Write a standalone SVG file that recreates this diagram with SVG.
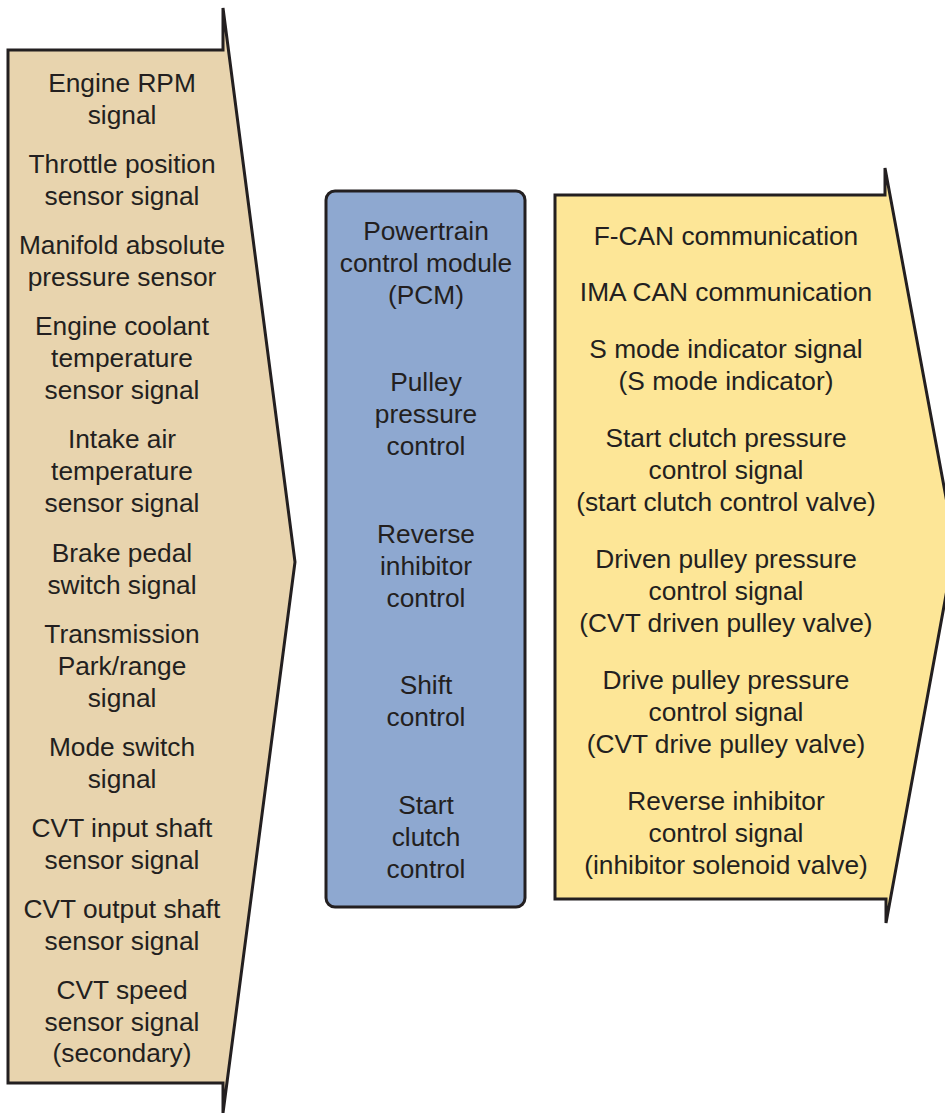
<svg xmlns="http://www.w3.org/2000/svg" width="945" height="1113" viewBox="0 0 945 1113">
<style>
.shape{stroke:#231f20;stroke-width:3;stroke-linejoin:miter}
text{font-family:"Liberation Sans",Arial,sans-serif;font-size:26.3px;fill:#231f20;text-anchor:middle}
</style>
<rect width="945" height="1113" fill="#ffffff"/>
<g id="inputs">
<polygon class="shape" fill="#e8d4ae" points="8,50 223,50 223,8 295,562 223,1113 223,1083 8,1083"/>
<text x="122" y="92">Engine RPM</text>
<text x="122" y="124">signal</text>
<text x="122" y="173">Throttle position</text>
<text x="122" y="205">sensor signal</text>
<text x="122" y="254">Manifold absolute</text>
<text x="122" y="286">pressure sensor</text>
<text x="122" y="335">Engine coolant</text>
<text x="122" y="367">temperature</text>
<text x="122" y="399">sensor signal</text>
<text x="122" y="448">Intake air</text>
<text x="122" y="480">temperature</text>
<text x="122" y="512">sensor signal</text>
<text x="122" y="562">Brake pedal</text>
<text x="122" y="594">switch signal</text>
<text x="122" y="643">Transmission</text>
<text x="122" y="675">Park/range</text>
<text x="122" y="707">signal</text>
<text x="122" y="756">Mode switch</text>
<text x="122" y="788">signal</text>
<text x="122" y="837">CVT input shaft</text>
<text x="122" y="869">sensor signal</text>
<text x="122" y="918">CVT output shaft</text>
<text x="122" y="950">sensor signal</text>
<text x="122" y="999">CVT speed</text>
<text x="122" y="1031">sensor signal</text>
<text x="122" y="1062">(secondary)</text>
</g>
<g id="pcm">
<rect class="shape" fill="#8ea8d0" x="326" y="191" width="199" height="716" rx="9" ry="9"/>
<text x="426" y="240">Powertrain</text>
<text x="426" y="272">control module</text>
<text x="426" y="304">(PCM)</text>
<text x="426" y="391">Pulley</text>
<text x="426" y="423">pressure</text>
<text x="426" y="455">control</text>
<text x="426" y="543">Reverse</text>
<text x="426" y="575">inhibitor</text>
<text x="426" y="607">control</text>
<text x="426" y="694">Shift</text>
<text x="426" y="726">control</text>
<text x="426" y="814">Start</text>
<text x="426" y="846">clutch</text>
<text x="426" y="878">control</text>
</g>
<g id="outputs">
<polygon class="shape" fill="#fde697" points="555,195 885,195 885,168 955,546 886,923 886,899 555,899"/>
<text x="726" y="245">F-CAN communication</text>
<text x="726" y="301">IMA CAN communication</text>
<text x="726" y="358">S mode indicator signal</text>
<text x="726" y="390">(S mode indicator)</text>
<text x="726" y="447">Start clutch pressure</text>
<text x="726" y="479">control signal</text>
<text x="726" y="511">(start clutch control valve)</text>
<text x="726" y="568">Driven pulley pressure</text>
<text x="726" y="600">control signal</text>
<text x="726" y="632">(CVT driven pulley valve)</text>
<text x="726" y="689">Drive pulley pressure</text>
<text x="726" y="721">control signal</text>
<text x="726" y="753">(CVT drive pulley valve)</text>
<text x="726" y="810">Reverse inhibitor</text>
<text x="726" y="842">control signal</text>
<text x="726" y="874">(inhibitor solenoid valve)</text>
</g>
<g id="connectors"></g>
</svg>
